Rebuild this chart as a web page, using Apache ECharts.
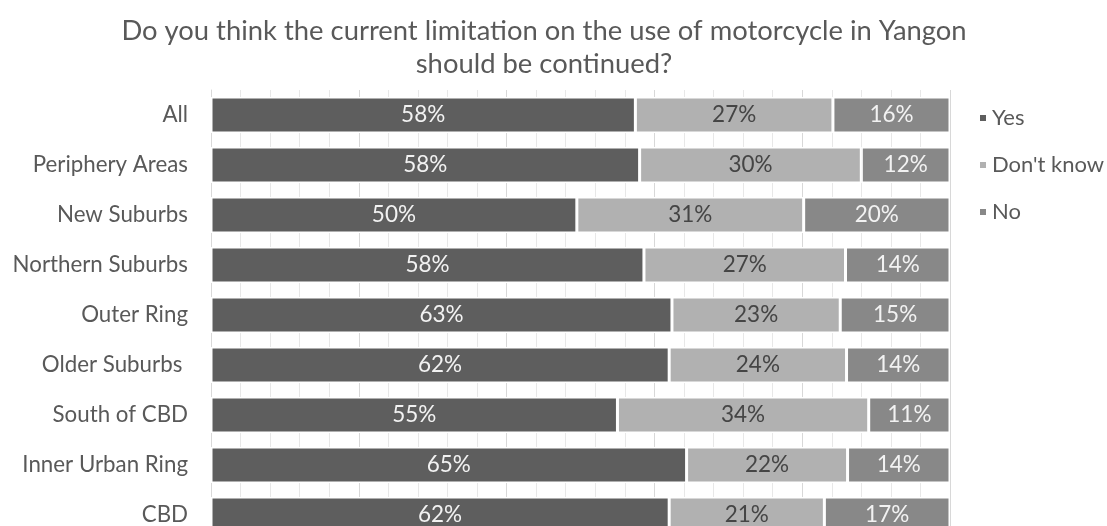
<!DOCTYPE html>
<html>
<head>
<meta charset="utf-8">
<title>Motorcycle limitation survey</title>
<script src="https://cdn.jsdelivr.net/npm/echarts@6/dist/echarts.min.js"></script>
<style>
  html, body { margin: 0; padding: 0; background: #ffffff; }
  #chart { width: 1107px; height: 526px; }
</style>
</head>
<body>
<div id="chart"></div>
<script>
// Survey answers by area, in percent (as reported, rounded)
const categories = ['All', 'Periphery Areas', 'New Suburbs', 'Northern Suburbs', 'Outer Ring',
  'Older Suburbs ', 'South of CBD', 'Inner Urban Ring', 'CBD'];
const yes = [58, 58, 50, 58, 63, 62, 55, 65, 62];
const dontKnow = [27, 30, 31, 27, 23, 24, 34, 22, 21];
const no = [16, 12, 20, 14, 15, 14, 11, 14, 17];
const seriesNames = ['Yes', "Don't know", 'No'];

const FONT = 'Lato';
const TEXT = '#595959';

// 100% stacked: each row is scaled by its own total
const totals = categories.map((_, i) => yes[i] + dontKnow[i] + no[i]);
const share = arr => arr.map((v, i) => v / totals[i] * 100);

function makeSeries(name, values, color, labelColor) {
  return {
    name: name,
    type: 'bar',
    stack: 'total',
    barWidth: 36,
    data: share(values),
    itemStyle: { color: color, borderColor: '#ffffff', borderWidth: 1.5 },
    label: {
      show: true,
      position: 'inside',
      color: labelColor,
      fontFamily: FONT,
      fontSize: 22.5,
      formatter: p => values[p.dataIndex] + '%'
    },
    emphasis: { disabled: true }
  };
}

const chart = echarts.init(document.getElementById('chart'), null, { renderer: 'canvas' });
chart.setOption({
  animation: false,
  backgroundColor: '#ffffff',
  title: {
    text: 'Do you think the current limitation on the use of motorcycle in Yangon\nshould be continued?',
    left: 544,
    top: 15,
    padding: 0,
    textAlign: 'center',
    textStyle: { fontFamily: FONT, fontSize: 27.4, fontWeight: 'normal', color: TEXT, lineHeight: 33 }
  },
  legend: {
    orient: 'vertical',
    left: 978,
    top: 106,
    padding: 0,
    itemWidth: 8,
    itemHeight: 8,
    itemGap: 23,
    icon: 'rect',
    data: seriesNames,
    textStyle: { fontFamily: FONT, fontSize: 22, color: TEXT, lineHeight: 24 }
  },
  // the last row runs past the lower edge of the canvas
  grid: { left: 211, width: 739, top: 90, height: 450, outerBoundsMode: 'none', containLabel: false },
  xAxis: {
    type: 'value',
    min: 0,
    max: 100,
    interval: 20,
    axisLabel: { show: false },
    axisTick: { show: false },
    axisLine: { show: false },
    splitLine: { show: true, lineStyle: { color: '#d8d8d8', width: 1 } },
    minorTick: { show: false, splitNumber: 5 },
    minorSplitLine: { show: true, lineStyle: { color: '#e8e8e8', width: 1 } }
  },
  yAxis: {
    type: 'category',
    inverse: true,
    data: categories,
    axisTick: { show: false },
    axisLine: { show: true, lineStyle: { color: '#d9d9d9', width: 1 } },
    axisLabel: { fontFamily: FONT, fontSize: 22.3, color: TEXT, margin: 23 }
  },
  series: [
    makeSeries(seriesNames[0], yes, '#5e5e5e', '#f2f2f2'),
    makeSeries(seriesNames[1], dontKnow, '#b1b1b1', '#454545'),
    makeSeries(seriesNames[2], no, '#888888', '#f2f2f2')
  ]
});
</script>
</body>
</html>
